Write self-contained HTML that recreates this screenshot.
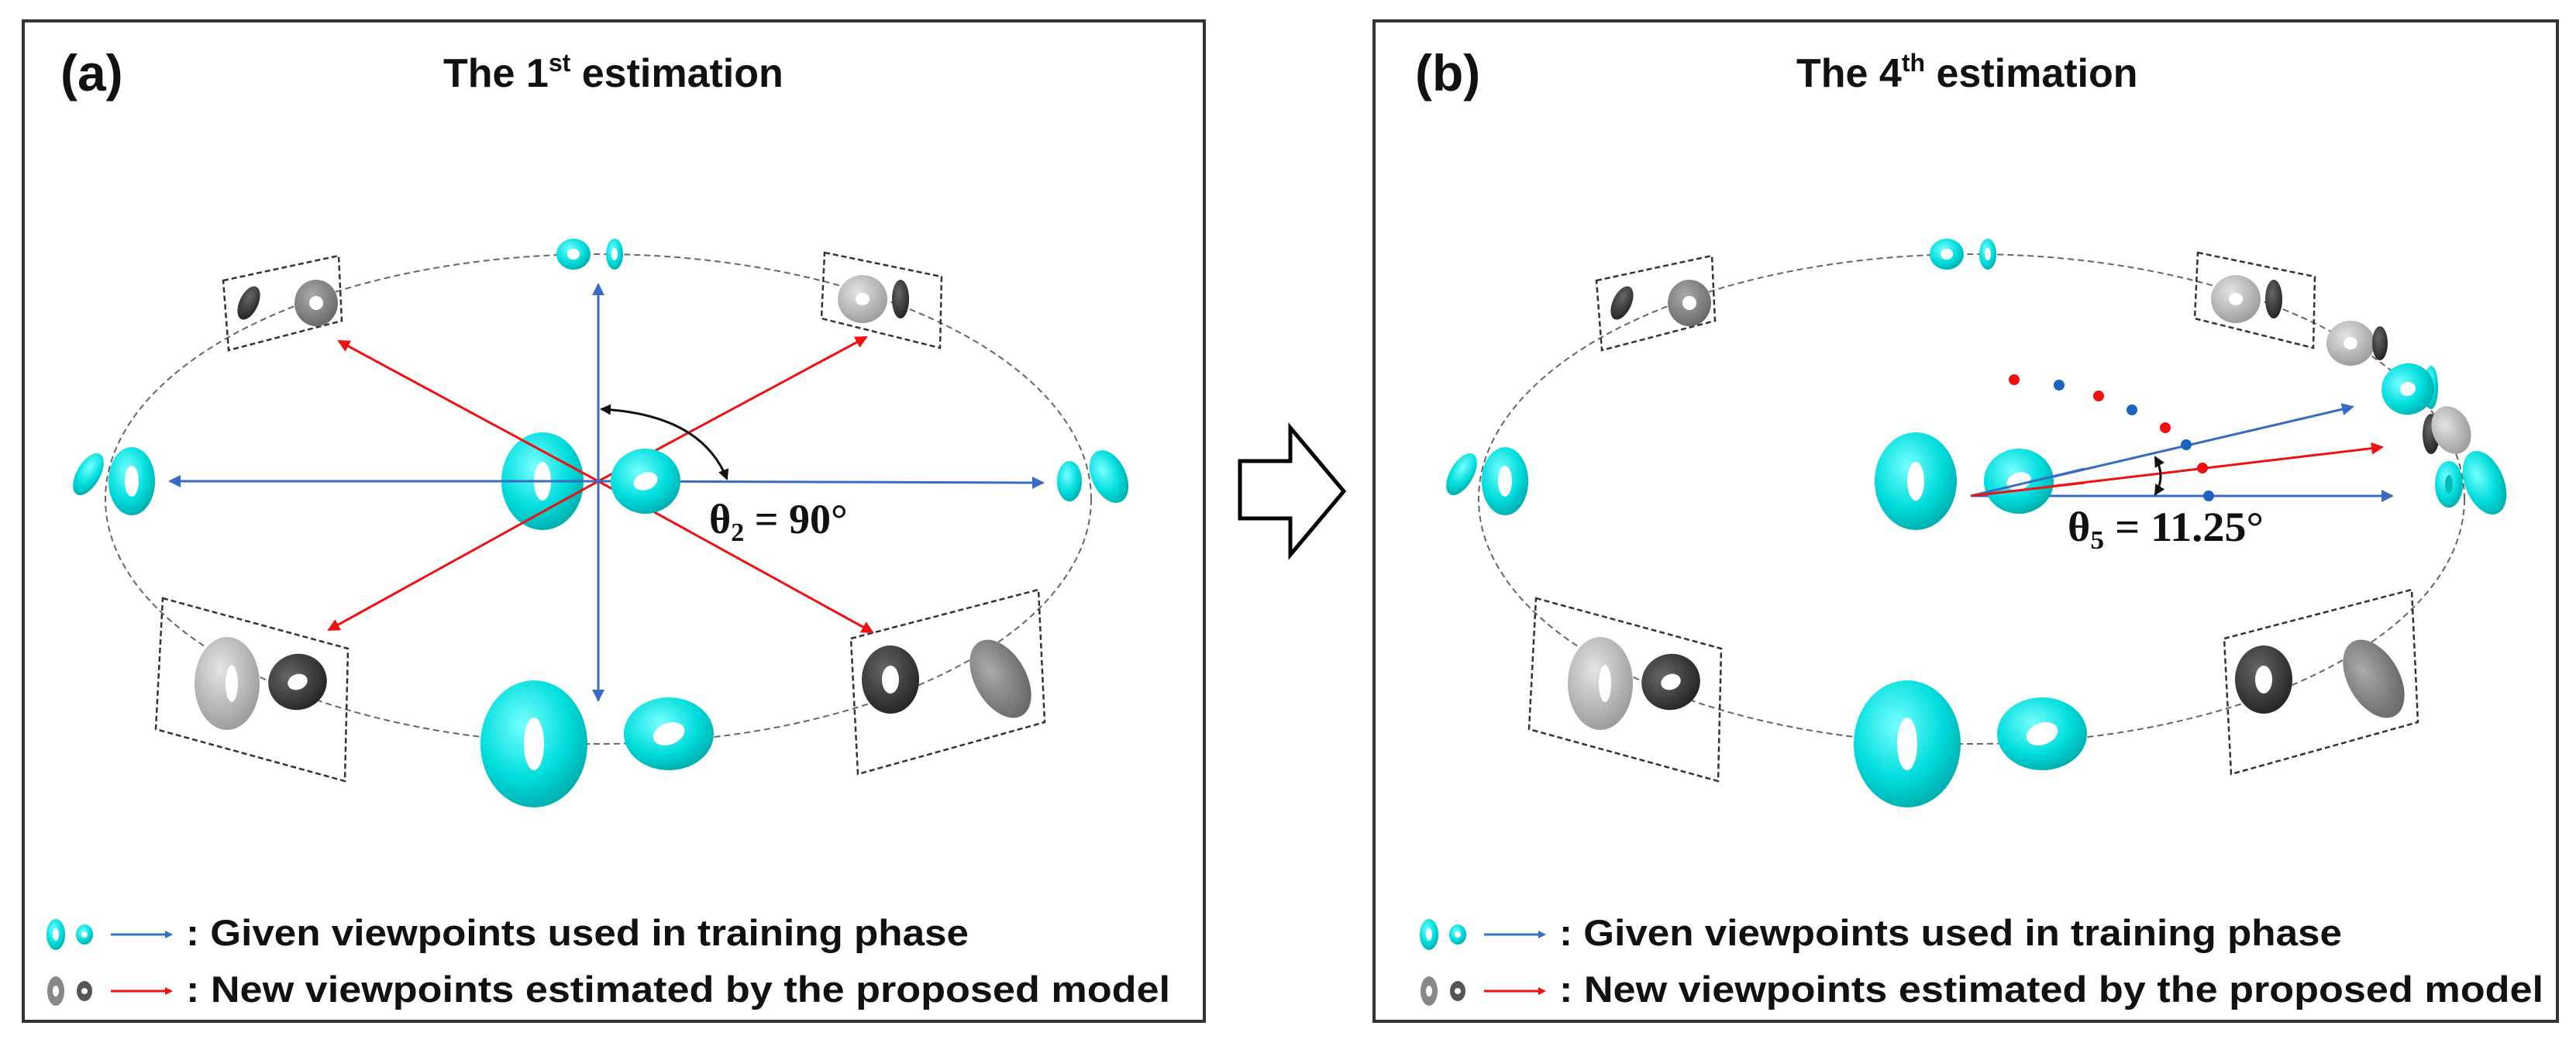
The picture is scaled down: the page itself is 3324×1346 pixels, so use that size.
<!DOCTYPE html>
<html><head><meta charset="utf-8"><style>
html,body{margin:0;padding:0;background:#fff}
svg{display:block}
.t{font-family:"Liberation Sans",sans-serif;font-weight:bold;fill:#111}
.m{font-family:"Liberation Serif",serif;font-weight:bold;fill:#111}
</style></head><body>
<svg width="3324" height="1346" viewBox="0 0 3324 1346" xmlns="http://www.w3.org/2000/svg">
<defs>
<radialGradient id="cy" cx="40%" cy="35%" r="70%"><stop offset="0" stop-color="#7ff"/><stop offset="0.6" stop-color="#0dd"/><stop offset="1" stop-color="#0aa"/></radialGradient>
<radialGradient id="lg" cx="40%" cy="35%" r="70%"><stop offset="0" stop-color="#e4e4e4"/><stop offset="1" stop-color="#999"/></radialGradient>
<radialGradient id="mg" cx="40%" cy="35%" r="70%"><stop offset="0" stop-color="#aaa"/><stop offset="1" stop-color="#666"/></radialGradient>
<radialGradient id="dk" cx="40%" cy="35%" r="70%"><stop offset="0" stop-color="#666"/><stop offset="1" stop-color="#222"/></radialGradient>
<marker id="ab" markerWidth="10" markerHeight="10" refX="8" refY="5" orient="auto" markerUnits="userSpaceOnUse" viewBox="0 0 10 10"><path d="M0,0 L10,5 L0,10 z" fill="#3a6bc4"/></marker>
<marker id="ar" markerWidth="10" markerHeight="10" refX="8" refY="5" orient="auto" markerUnits="userSpaceOnUse" viewBox="0 0 10 10"><path d="M0,0 L10,5 L0,10 z" fill="#f01010"/></marker>
<marker id="ab2" markerWidth="18" markerHeight="18" refX="14" refY="9" orient="auto" markerUnits="userSpaceOnUse"><path d="M0,1 L16,9 L0,17 z" fill="#3a6bc4"/></marker>
<marker id="ar2" markerWidth="18" markerHeight="18" refX="14" refY="9" orient="auto" markerUnits="userSpaceOnUse"><path d="M0,1 L16,9 L0,17 z" fill="#f01010"/></marker>
<marker id="ak" markerWidth="18" markerHeight="18" refX="12" refY="9" orient="auto-start-reverse" markerUnits="userSpaceOnUse"><path d="M0,2 L14,9 L0,16 z" fill="#111"/></marker>

<g id="ring">
<ellipse cx="772" cy="644" rx="636" ry="316" fill="none" stroke="#666" stroke-width="2" stroke-dasharray="8 5"/>
<g fill="none" stroke="#333" stroke-width="2.5" stroke-dasharray="7 4">
<polygon points="288,362 437,330 441,414 295,452"/>
<polygon points="1064,326 1215,357 1213,449 1060,411"/>
<polygon points="210,772 449,837 445,1008 201,941"/>
<polygon points="1098,824 1340,761 1348,932 1107,999"/>
</g>
<g transform="translate(740,328)"><ellipse rx="22" ry="20" fill="url(#cy)"/><ellipse rx="8" ry="7" fill="#fff"/></g>
<g transform="translate(793,328)"><ellipse rx="11" ry="20" fill="url(#cy)"/><ellipse rx="4" ry="8" fill="#fff"/></g>
<g transform="translate(114,612) rotate(30)"><ellipse rx="15" ry="30" fill="url(#cy)"/></g>
<g transform="translate(170,621)"><ellipse rx="30" ry="44" fill="url(#cy)"/><ellipse rx="9" ry="20" fill="#fff"/></g>
<g transform="translate(321,391) rotate(25)"><ellipse rx="12" ry="23" fill="url(#dk)"/></g>
<g transform="translate(408,391)"><ellipse rx="28" ry="30" fill="url(#mg)"/><ellipse rx="9" ry="9" fill="#fff"/></g>
<g transform="translate(1113,386)"><ellipse rx="32" ry="31" fill="url(#lg)"/><ellipse rx="9" ry="8" fill="#fff"/></g>
<g transform="translate(1162,386)"><ellipse rx="11" ry="25" fill="url(#dk)"/></g>
<g transform="translate(293,882)"><ellipse rx="42" ry="60" fill="url(#lg)"/><ellipse cx="6" rx="8" ry="24" fill="#fff"/></g>
<g transform="translate(384,880) rotate(-20)"><ellipse rx="38" ry="36" fill="url(#dk)"/><ellipse rx="13" ry="10" fill="#fff"/></g>
<g transform="translate(1149,877)"><ellipse rx="37" ry="44" fill="url(#dk)"/><ellipse rx="11" ry="18" fill="#fff"/></g>
<g transform="translate(1291,876) rotate(-30)"><ellipse rx="33" ry="55" fill="url(#mg)"/></g>
<g transform="translate(689,960)"><ellipse rx="69" ry="82" fill="url(#cy)"/><ellipse rx="13" ry="34" fill="#fff"/></g>
<g transform="translate(863,947)"><ellipse rx="58" ry="47" fill="url(#cy)"/><ellipse rx="21" ry="14" fill="#fff" transform="rotate(-20)"/></g>
<g transform="translate(700,621)"><ellipse rx="53" ry="63" fill="url(#cy)"/><ellipse rx="11" ry="25" fill="#fff"/></g>
</g>

<g id="legend" font-size="47">
<g transform="translate(72,1206)"><ellipse rx="12" ry="20" fill="url(#cy)"/><ellipse rx="4" ry="8" fill="#fff"/></g>
<g transform="translate(109,1206)"><ellipse rx="11" ry="13" fill="url(#cy)"/><ellipse rx="4" ry="4" fill="#fff"/></g>
<line x1="143" y1="1206" x2="221" y2="1206" stroke="#2e75c6" stroke-width="3" marker-end="url(#ab)"/>
<g transform="translate(72,1279)"><ellipse rx="11" ry="19" fill="#888"/><ellipse rx="4" ry="7" fill="#fff"/></g>
<g transform="translate(109,1279)"><ellipse rx="10" ry="13" fill="#555"/><ellipse rx="4" ry="4" fill="#fff"/></g>
<line x1="143" y1="1279" x2="221" y2="1279" stroke="#f01010" stroke-width="3" marker-end="url(#ar)"/>
<text class="t" x="240" y="1220" textLength="1010" lengthAdjust="spacingAndGlyphs">: Given viewpoints used in training phase</text>
<text class="t" x="240" y="1293" textLength="1270" lengthAdjust="spacingAndGlyphs">: New viewpoints estimated by the proposed model</text>
</g>
</defs>

<rect x="30" y="27" width="1524" height="1291" fill="none" stroke="#333" stroke-width="4"/>
<text class="t" x="78" y="117" font-size="66">(a)</text>
<text class="t" x="572" y="112" font-size="52">The 1<tspan font-size="32" dy="-20">st</tspan><tspan dy="20"> estimation</tspan></text>
<use href="#ring"/>
<g stroke="#f01010" stroke-width="3">
<line x1="772" y1="621" x2="437" y2="440" marker-end="url(#ar2)"/>
<line x1="772" y1="621" x2="1118" y2="435" marker-end="url(#ar2)"/>
<line x1="772" y1="621" x2="424" y2="813" marker-end="url(#ar2)"/>
<line x1="772" y1="621" x2="1126" y2="816" marker-end="url(#ar2)"/>
</g>
<g stroke="#3a6bc4" stroke-width="3">
<line x1="772" y1="621" x2="772" y2="367" marker-end="url(#ab2)"/>
<line x1="772" y1="621" x2="772" y2="904" marker-end="url(#ab2)"/>
<line x1="772" y1="621" x2="219" y2="621" marker-end="url(#ab2)"/>
<line x1="772" y1="621" x2="1346" y2="623" marker-end="url(#ab2)"/>
</g>
<g transform="translate(833,621)"><ellipse rx="45" ry="42" fill="url(#cy)"/><ellipse rx="16" ry="11" fill="#fff" transform="rotate(-20)"/></g>
<g transform="translate(1380,621)"><ellipse rx="16" ry="26" fill="url(#cy)"/></g>
<g transform="translate(1431,615) rotate(-25)"><ellipse rx="22" ry="36" fill="url(#cy)"/></g>
<path d="M776,528 Q905,535 938,618" fill="none" stroke="#111" stroke-width="3" marker-start="url(#ak)" marker-end="url(#ak)"/>
<text class="m" x="915" y="688" font-size="54">θ<tspan font-size="34" dy="10">2</tspan><tspan dy="-10">  =  90°</tspan></text>
<use href="#legend"/>

<polygon points="1600,595 1665,595 1665,552 1734,634 1665,716 1665,669 1600,669" fill="#fff" stroke="#000" stroke-width="5"/>

<rect x="1773" y="27" width="1527" height="1291" fill="none" stroke="#333" stroke-width="4"/>
<text class="t" x="1826" y="117" font-size="66">(b)</text>
<text class="t" x="2318" y="112" font-size="52">The 4<tspan font-size="32" dy="-20">th</tspan><tspan dy="20"> estimation</tspan></text>
<use href="#ring" transform="translate(1772,0)"/>
<g stroke-width="3">
<line x1="2543" y1="640" x2="3036" y2="525" stroke="#3a6bc4" marker-end="url(#ab2)"/>
<line x1="2543" y1="640" x2="3074" y2="577" stroke="#f01010" marker-end="url(#ar2)"/>
<line x1="2543" y1="640" x2="3087" y2="640" stroke="#3a6bc4" marker-end="url(#ab2)"/>
</g>
<g transform="translate(2605,621)"><ellipse rx="45" ry="42" fill="url(#cy)"/><ellipse rx="16" ry="11" fill="#fff" transform="rotate(-20)"/></g>
<line x1="2543" y1="640" x2="2690" y2="605" stroke="#3a6bc4" stroke-width="3"/>
<line x1="2543" y1="640" x2="2690" y2="623" stroke="#f01010" stroke-width="3"/>
<circle cx="2599" cy="490" r="7" fill="#f01010"/>
<circle cx="2657" cy="497" r="7" fill="#1a64c0"/>
<circle cx="2708" cy="511" r="7" fill="#f01010"/>
<circle cx="2751" cy="529" r="7" fill="#1a64c0"/>
<circle cx="2794" cy="552" r="7" fill="#f01010"/>
<circle cx="2821" cy="574" r="7" fill="#1a64c0"/>
<circle cx="2842" cy="604" r="7" fill="#f01010"/>
<circle cx="2850" cy="640" r="7" fill="#1a64c0"/>
<path d="M2781,590 Q2795,615 2781,638" fill="none" stroke="#111" stroke-width="3" marker-start="url(#ak)" marker-end="url(#ak)"/>
<text class="m" x="2668" y="698" font-size="54" textLength="253" lengthAdjust="spacingAndGlyphs">θ<tspan font-size="34" dy="10">5</tspan><tspan dy="-10"> = 11.25°</tspan></text>
<g transform="translate(3033,443)"><ellipse rx="31" ry="29" fill="url(#lg)"/><ellipse rx="9" ry="8" fill="#fff"/></g>
<g transform="translate(3071,443)"><ellipse rx="10" ry="22" fill="url(#dk)"/></g>
<g transform="translate(3137,500)"><ellipse rx="9" ry="28" fill="url(#cy)"/></g>
<g transform="translate(3107,502) rotate(-20)"><ellipse rx="34" ry="33" fill="url(#cy)"/><ellipse rx="10" ry="9" fill="#fff"/></g>
<g transform="translate(3137,560)"><ellipse rx="11" ry="26" fill="url(#dk)"/></g>
<g transform="translate(3163,555) rotate(-25)"><ellipse rx="24" ry="32" fill="url(#lg)"/></g>
<g transform="translate(3160,625)"><ellipse rx="18" ry="30" fill="url(#cy)"/><ellipse rx="5" ry="12" fill="#0bb"/></g>
<g transform="translate(3206,623) rotate(-22)"><ellipse rx="25" ry="43" fill="url(#cy)"/></g>
<use href="#legend" transform="translate(1772,0)"/>
</svg>
</body></html>
